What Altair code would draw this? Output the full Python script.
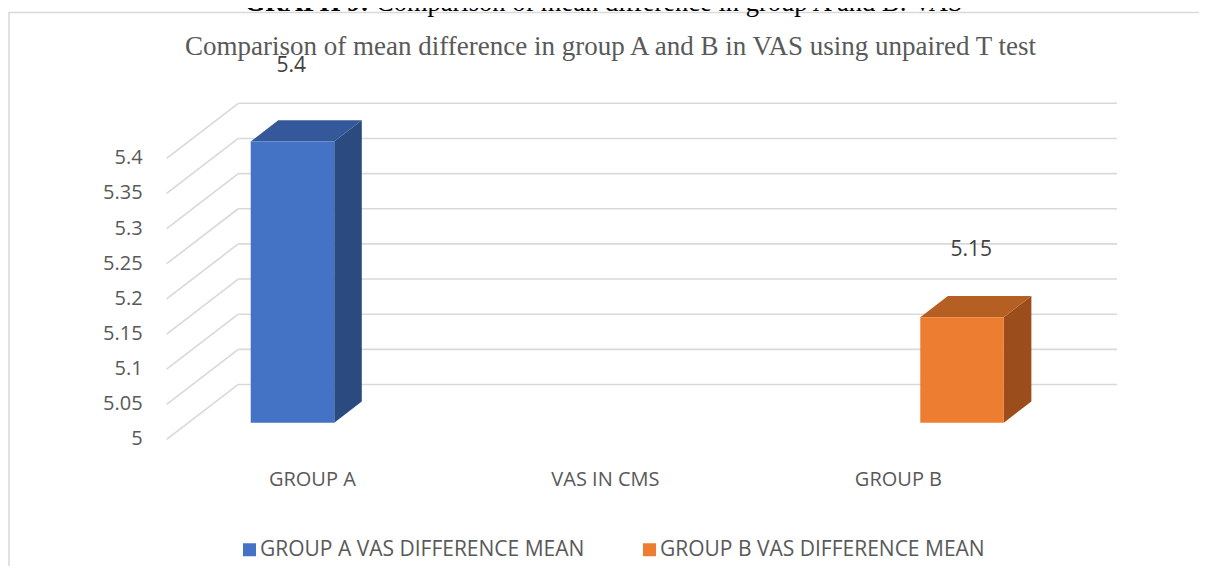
import altair as alt
import pandas as pd

# ---------------- data ----------------
categories = ["GROUP A", "VAS IN CMS", "GROUP B"]
series_names = ["GROUP A VAS DIFFERENCE MEAN", "GROUP B VAS DIFFERENCE MEAN"]
series_values = [5.4, 5.15]
series_category = ["GROUP A", "GROUP B"]
y_ticks = [5.0, 5.05, 5.1, 5.15, 5.2, 5.25, 5.3, 5.35, 5.4]
chart_title = "Comparison of mean difference in group A and B in VAS using unpaired T test"
heading_bold = "GRAPH 9:"
heading_rest = "Comparison of mean difference in group A and B: VAS"

# ---------------- style ----------------
front_colors = ["#4472C4", "#ED7D31"]
top_colors = ["#34589A", "#B65F22"]
side_colors = ["#2A4A80", "#9B4D1C"]
grid_color = "#D9D9D9"
text_gray = "#595959"
label_dark = "#404040"
sans = "Open Sans"
serif = "Liberation Serif"

W_PLOT, H_PLOT = 967, 355
XS = alt.Scale(domain=[-0.52, 2.78], nice=False, zero=False)
YS = alt.Scale(domain=[4.985, 5.49], nice=False, zero=False)

DX = 0.2444      # depth shift in x units (back wall)
DY = 0.0782      # depth shift in value units (back wall)
D0, D1 = 0.305, 0.69   # bar front / back depth fractions
BAR_W = 0.285
X_FRONT = -0.4973
X_BACK_L = X_FRONT + DX
X_BACK_R = 2.746
BASE = y_ticks[0]
LABEL_PERSP_Y = 0.0526
LABEL_PERSP_X = 0.0157
LABEL_SHIFT_X = -0.0019

# ---------------- tables ----------------
grid = pd.DataFrame({"t": y_ticks})
grid["tb"] = grid["t"] + DY
grid["xf"] = X_FRONT
grid["xbl"] = X_BACK_L
grid["xbr"] = X_BACK_R
grid["lab"] = [f"{t:g}" for t in y_ticks]

front_rows, top_rows, side_rows, lab_rows = [], [], [], []
for s, (name, v, cat) in enumerate(zip(series_names, series_values, series_category)):
    c = categories.index(cat)
    left = c + (s - 1) * BAR_W
    right = left + BAR_W
    front_rows.append({"series": name, "x1": left + D0 * DX, "x2": right + D0 * DX,
                       "y1": BASE + D0 * DY, "y2": v + D0 * DY})
    for d in (D0, D1):
        top_rows.append({"bar": name, "col": top_colors[s], "ty": v + d * DY,
                         "tx1": left + d * DX, "tx2": right + d * DX})
        side_rows.append({"bar": name, "col": side_colors[s], "sx": right + d * DX,
                          "sy1": BASE + d * DY, "sy2": v + d * DY})
    ctr = (left + right) / 2
    lab_rows.append({"lx": ctr + D0 * DX + LABEL_SHIFT_X + LABEL_PERSP_X * ctr,
                     "ly": v + DY + LABEL_PERSP_Y * (v - BASE), "txt": f"{v:g}"})

front = pd.DataFrame(front_rows)
top = pd.DataFrame(top_rows)
side = pd.DataFrame(side_rows)
labs = pd.DataFrame(lab_rows)
cats = pd.DataFrame({"cat": categories, "ci": list(range(len(categories)))})
one = pd.DataFrame({"k": [0]})

# ---------------- layers ----------------
border = alt.Chart(one).mark_rect(fillOpacity=0, stroke=grid_color, strokeWidth=1.5).encode(
    x=alt.value(-151), x2=alt.value(1300), y=alt.value(-82.5), y2=alt.value(700))

heading1 = alt.Chart(one).mark_text(font=serif, fontSize=26.5, fontWeight="bold", color="#000000",
                                    align="right", baseline="alphabetic").encode(
    x=alt.value(209), y=alt.value(-84), text=alt.value(heading_bold))
heading2 = alt.Chart(one).mark_text(font=serif, fontSize=26.5, color="#000000",
                                    align="left", baseline="alphabetic").encode(
    x=alt.value(216), y=alt.value(-84), text=alt.value(heading_rest))

title = alt.Chart(one).mark_text(font=serif, fontSize=27, color=text_gray,
                                 align="center", baseline="alphabetic").encode(
    x=alt.value(450.5), y=alt.value(-40), text=alt.value(chart_title))

back_lines = alt.Chart(grid).mark_rule(color=grid_color, strokeWidth=1.6).encode(
    x=alt.X("xbl:Q", scale=XS, axis=None), x2="xbr:Q",
    y=alt.Y("tb:Q", scale=YS, axis=None))

diag_lines = alt.Chart(grid).mark_rule(color=grid_color, strokeWidth=1.6).encode(
    x=alt.X("xf:Q", scale=XS, axis=None), x2="xbl:Q",
    y=alt.Y("t:Q", scale=YS, axis=None), y2="tb:Q")

y_labels = alt.Chart(grid).mark_text(font=sans, fontSize=20, color=text_gray,
                                     align="right", baseline="middle", dx=-24).encode(
    x=alt.X("xf:Q", scale=XS, axis=None), y=alt.Y("t:Q", scale=YS, axis=None), text="lab:N")

front_faces = alt.Chart(front).mark_rect().encode(
    x=alt.X("x1:Q", scale=XS, axis=None), x2="x2:Q",
    y=alt.Y("y1:Q", scale=YS, axis=None), y2="y2:Q",
    color=alt.Color("series:N", scale=alt.Scale(domain=series_names, range=front_colors),
                    legend=alt.Legend(title=None, orient="none", direction="horizontal",
                                      legendX=79, legendY=444, symbolType="square",
                                      symbolSize=169, symbolStrokeWidth=0, labelFont=sans,
                                      labelFontSize=21, labelColor=text_gray, labelOffset=0,
                                      columnPadding=54, padding=0, labelLimit=600)))

top_faces = alt.Chart(top).mark_area(orient="horizontal").encode(
    y=alt.Y("ty:Q", scale=YS, axis=None),
    x=alt.X("tx1:Q", scale=XS, axis=None), x2="tx2:Q",
    detail="bar:N", fill=alt.Fill("col:N", scale=None))

side_faces = alt.Chart(side).mark_area(orient="vertical").encode(
    x=alt.X("sx:Q", scale=XS, axis=None),
    y=alt.Y("sy1:Q", scale=YS, axis=None), y2="sy2:Q",
    detail="bar:N", fill=alt.Fill("col:N", scale=None))

value_labels = alt.Chart(labs).mark_text(font=sans, fontSize=21, color=label_dark,
                                         align="center", baseline="alphabetic", dy=-17).encode(
    x=alt.X("lx:Q", scale=XS, axis=None), y=alt.Y("ly:Q", scale=YS, axis=None), text="txt:N")

cat_labels = alt.Chart(cats).mark_text(font=sans, fontSize=20, color=text_gray,
                                       align="center", baseline="alphabetic").encode(
    x=alt.X("ci:Q", scale=XS, axis=None), y=alt.value(391), text="cat:N")

chart = alt.layer(
    border, heading1, heading2, title, back_lines, diag_lines, y_labels,
    side_faces, top_faces, front_faces, value_labels, cat_labels
).properties(
    width=W_PLOT, height=H_PLOT,
    padding={"left": 152, "top": 87, "right": 72, "bottom": 116},
    autosize=alt.AutoSizeParams(type="none"),
    background="#FFFFFF",
).configure_view(strokeWidth=0)

chart.save("out.html", embed_options={"renderer": "svg", "actions": False})
